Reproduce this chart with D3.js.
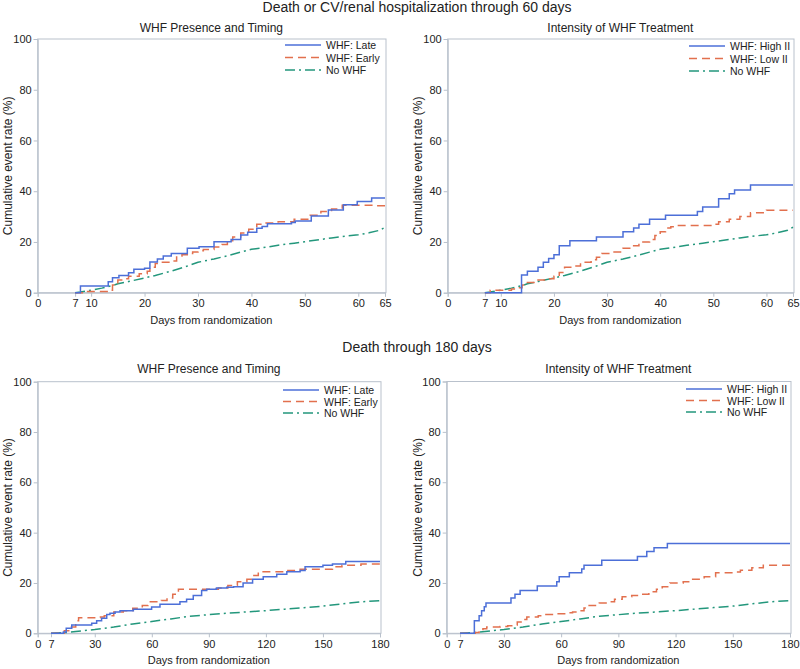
<!DOCTYPE html>
<html>
<head>
<meta charset="utf-8">
<script src="https://cdn.jsdelivr.net/npm/d3@7"></script>
<style>
  html, body { margin: 0; padding: 0; background: #fff; }
  svg { display: block; font-family: "Liberation Sans", Arial, sans-serif; }
</style>
</head>
<body>
<svg id="chart" width="800" height="669"></svg>
<script>
// ---------------- DATA ----------------
const mainTitles = ["Death or CV/renal hospitalization through 60 days", "Death through 180 days"];
const panelTitles = ["WHF Presence and Timing", "Intensity of WHF Treatment"];
const legendTiming = ["WHF: Late", "WHF: Early", "No WHF"];
const legendIntensity = ["WHF: High II", "WHF: Low II", "No WHF"];
const xTicks60 = [0, 7, 10, 20, 30, 40, 50, 60, 65];
const xTicks180 = [0, 7, 30, 60, 90, 120, 150, 180];
const yTicks = [0, 20, 40, 60, 80, 100];
const xLabel = "Days from randomization";
const yLabel = "Cumulative event rate (%)";

// 60-day composite: [day, cumulative %]
const late60 = [[7,0],[8,2.6],[13.2,4.3],[14,5.9],[15.2,6.8],[17,7.9],[18,9.2],[20,9.6],[21,12.1],[22.4,13.3],[23.5,14.5],[25,15.5],[28,17.5],[30.2,18.1],[33,20.1],[36.2,21],[38,22.7],[39.3,23.8],[41,25.4],[42,26.1],[43,27.2],[47.5,27.7],[48.2,28.3],[51.2,30.2],[54.4,32.6],[57.2,34.7],[59.8,35.9],[62.5,37.3],[65,37.3]];
const early60 = [[7,0],[9,0.5],[11,0.5],[13,1],[14,3],[15,5],[16,5.5],[17,6.5],[19,7.5],[20.5,8.5],[21,10],[22,11.5],[23,12],[25,12.5],[26,14.5],[27,15],[28,15.5],[29,16],[30,16.5],[31,17],[33,18],[34.5,19],[35.5,20.5],[36.5,22],[38,23.5],[39.5,25],[41,27],[42,27.5],[45,28],[48,29],[50,29],[51,30.5],[53,32],[55,33],[57,34.5],[60,34.5],[63,34.3],[65,34.3]];
const noWhf60 = [[7,0],[8,0.3],[10,1],[12,1.8],[14,2.8],[15,3.5],[17,4.4],[20,5.8],[22,6.8],[25,8.5],[28,10.5],[30,12],[33,13.3],[35,14.3],[38,16],[40,17.1],[43,18],[45,18.7],[48,19.5],[50,20.1],[53,21],[55,21.6],[58,22.4],[60,22.8],[62,23.6],[64,24.6],[65,25.8]];
const high60 = [[7,0],[13.9,7],[15,8.5],[17,10],[18,12],[19,13.5],[20,15],[21,18.5],[23,20.5],[28,22],[33,24],[35,25.5],[36,27],[38,29],[41,30.5],[47,32],[48,33.8],[51,37],[53,39],[54,40.5],[57,42.5],[65,42.5]];
const low60 = [[7,0],[8,1],[11,1],[12,1.5],[13,2],[14,3],[15,4],[17,5],[19,5.5],[20,6.5],[21,8],[22,10],[24,10.5],[25,12],[27,13],[28,14],[29,15.5],[31,16],[33,17.5],[35,18.5],[36,20],[38,21],[39,22.5],[40,24],[41,25.5],[42,26],[43,26.5],[48,26.5],[50,27],[51,28],[53,29],[55,30],[57,31.5],[60,32.5],[65,32.5]];

// 180-day death
const late180 = [[7,0],[13.5,0.5],[15,2],[17.9,3.3],[28.4,4],[31,5],[33.6,6],[36.3,7.5],[38,8],[40.7,8.5],[43.3,9],[50.3,9.6],[59.9,10.5],[64.3,11.5],[74.8,12.5],[78.3,13.5],[81.8,15],[86.2,17],[88.9,17.5],[94,18],[99.4,18.3],[103,18.5],[108,20],[113,21.5],[118.6,22.5],[125.7,23.5],[131,24.5],[138,25],[140.6,26.5],[150,27],[155,27.5],[162,28.5],[180,28.5]];
const early180 = [[7,0],[14,1],[17,2.5],[20,5],[21.5,6.2],[33,6.5],[35,7],[40,8.5],[45,9],[50,10],[55,11],[58,12.5],[65,13],[68,14],[71,15.5],[74,17.5],[90,17.5],[95,18],[100,19],[105,20.5],[110,21.5],[113,23],[116,24.5],[125,24.5],[130,25],[138,25.5],[150,25.5],[155,26.5],[160,27],[170,27.5],[180,28]];
const noWhf180 = [[7,0],[15,0.3],[20,0.7],[30,1.5],[40,2.5],[50,3.7],[60,4.7],[70,5.7],[80,6.8],[90,7.4],[100,8],[110,8.5],[120,9],[130,9.6],[140,10.2],[150,10.8],[160,11.7],[170,12.5],[180,13]];
const high180 = [[7,0],[14.5,5],[17,7],[18.3,9],[19.7,10.5],[20.6,12],[33.7,14],[35.8,15.5],[38.5,17],[47.5,18.8],[57.7,20.5],[59,22.5],[64.3,24],[70.8,25.5],[72,27],[81.3,29],[100,30.5],[104.9,32.5],[108.7,34],[115.7,35.7],[180,35.7]];
const low180 = [[7,0],[15,0.3],[17,0.8],[19,1.8],[21,2.5],[28,2.7],[32,3],[35,3.3],[37,4.5],[39,5.5],[42,6.5],[48,7],[50,7.5],[58,7.8],[63,8.2],[66,8.5],[70,9],[72,10],[74,11],[78,11.5],[80,12],[85,12.5],[88,13.5],[92,14.5],[97,15],[100,15.5],[106,16.5],[110,17.5],[113,18.5],[117,20],[124,20.5],[128,21.5],[135,22.5],[141,24],[150,24.3],[154,25],[160,26],[166,27],[180,27]];

// ---------------- STYLE ----------------
const colors = ["#4c6fd8", "#e2704e", "#23977c"];
const dashes = [null, "8,5", "10,4,2,4"];
const axisColor = "#b9c1cc";
const textColor = "#222";

const svg = d3.select("#chart");

const panels = [
  { x0: 37.7, x1: 385, y0: 292.7, y1: 39, xmax: 65, ticks: xTicks60, title: panelTitles[0], legend: legendTiming, series: [late60, early60, noWhf60], titleY: 32, legX: 285, legY: 45, legStep: 12.5, yLabX: 12 },
  { x0: 447.7, x1: 793, y0: 292.7, y1: 39, xmax: 65, ticks: xTicks60, title: panelTitles[1], legend: legendIntensity, series: [high60, low60, noWhf60], titleY: 32, legX: 689, legY: 46, legStep: 12.5, yLabX: 421.5 },
  { x0: 37.7, x1: 380, y0: 633.3, y1: 381.7, xmax: 180, ticks: xTicks180, title: panelTitles[0], legend: legendTiming, series: [late180, early180, noWhf180], titleY: 373, legX: 283, legY: 390, legStep: 11.5, yLabX: 12 },
  { x0: 446.7, x1: 790, y0: 633.3, y1: 381.5, xmax: 180, ticks: xTicks180, title: panelTitles[1], legend: legendIntensity, series: [high180, low180, noWhf180], titleY: 373, legX: 686, legY: 389, legStep: 11.5, yLabX: 421.5 }
];

// main titles
svg.append("text").attr("x", 417).attr("y", 12).attr("text-anchor", "middle")
  .attr("font-size", 14).attr("fill", textColor).text(mainTitles[0]);
svg.append("text").attr("x", 417).attr("y", 352).attr("text-anchor", "middle")
  .attr("font-size", 14).attr("fill", textColor).text(mainTitles[1]);

panels.forEach(p => {
  const x = d3.scaleLinear().domain([0, p.xmax]).range([p.x0, p.x1]);
  const y = d3.scaleLinear().domain([0, 100]).range([p.y0, p.y1]);
  const g = svg.append("g");

  // frame
  g.append("rect").attr("x", p.x0).attr("y", p.y1)
    .attr("width", p.x1 - p.x0 + 1).attr("height", p.y0 - p.y1)
    .attr("fill", "none").attr("stroke", axisColor).attr("stroke-width", 1);

  // axes
  const xa = g.append("g").attr("transform", `translate(0,${p.y0})`)
    .call(d3.axisBottom(x).tickValues(p.ticks).tickSize(4).tickPadding(3).tickFormat(d3.format("d")));
  const ya = g.append("g").attr("transform", `translate(${p.x0},0)`)
    .call(d3.axisLeft(y).tickValues(yTicks).tickSize(4).tickPadding(2).tickFormat(d3.format("d")));
  [xa, ya].forEach(a => {
    a.select(".domain").attr("stroke", axisColor);
    a.selectAll(".tick line").attr("stroke", axisColor);
    a.selectAll(".tick text").attr("fill", textColor).attr("font-size", 11)
      .attr("font-family", "'Liberation Sans', Arial, sans-serif");
  });

  // axis titles
  g.append("text").attr("x", (p.x0 + p.x1) / 2).attr("y", p.y0 + 31)
    .attr("text-anchor", "middle").attr("font-size", 11).attr("fill", textColor).text(xLabel);
  g.append("text").attr("transform", `translate(${p.yLabX},${(p.y0 + p.y1) / 2}) rotate(-90)`)
    .attr("text-anchor", "middle").attr("font-size", 12).attr("fill", textColor).text(yLabel);

  // panel title
  g.append("text").attr("x", (p.x0 + p.x1) / 2).attr("y", p.titleY)
    .attr("text-anchor", "middle").attr("font-size", 12).attr("fill", textColor).text(p.title);

  // curves (draw No WHF first, then red, then blue on top)
  [2, 1, 0].forEach(i => {
    const line = d3.line().x(d => x(d[0])).y(d => y(d[1]))
      .curve(i === 2 ? d3.curveLinear : d3.curveStepAfter);
    g.append("path").datum(p.series[i]).attr("d", line)
      .attr("fill", "none").attr("stroke", colors[i]).attr("stroke-width", 1.5)
      .attr("stroke-dasharray", dashes[i]);
  });

  // legend
  p.legend.forEach((name, i) => {
    const ly = p.legY + i * p.legStep;
    g.append("line").attr("x1", p.legX).attr("x2", p.legX + 36).attr("y1", ly).attr("y2", ly)
      .attr("stroke", colors[i]).attr("stroke-width", 1.5).attr("stroke-dasharray", dashes[i]);
    g.append("text").attr("x", p.legX + 41).attr("y", ly + 4)
      .attr("font-size", 10.5).attr("fill", textColor).text(name);
  });
});
</script>
</body>
</html>
